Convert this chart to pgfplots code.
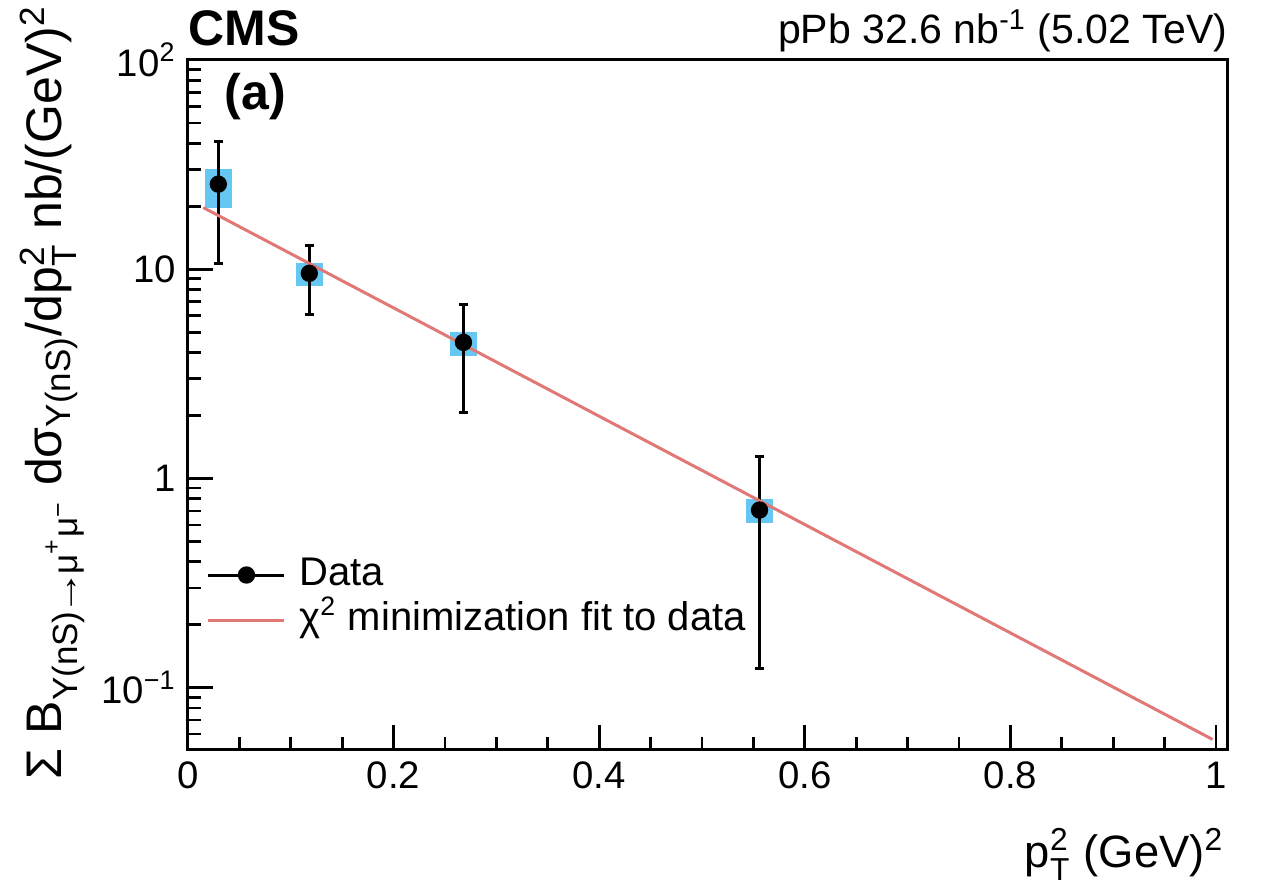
\documentclass[border=0pt]{standalone}
\usepackage{fontspec}
\setmainfont{Liberation Sans}
\usepackage{amsmath}
\usepackage{graphicx}
\usepackage{pgfplots}
\pgfplotsset{compat=1.18}
\usepackage{pgfplotstable}
\usetikzlibrary{calc}
\definecolor{boxblue}{RGB}{102,200,242}
\definecolor{fitred}{RGB}{224,120,118}

\pgfplotstableread{
x y ep em sp sm
0.0295 25.5 15.1 14.83 4.6 5.8
0.118 9.56 3.44 3.47 1.18 1.22
0.268 4.47 2.35 2.41 0.55 0.60
0.556 0.706 0.574 0.582 0.094 0.096
}\datatab

\pgfplotstableread{
x y
0.0149 19.7
0.9967 0.0566
}\fittab

\begin{document}
\begin{tikzpicture}
\begin{axis}[
  scale only axis, width=311.9pt, height=207pt,
  xmin=0, xmax=1.0114, ymode=log, ymin=0.0504, ymax=100,
  axis line style={line width=0.9pt},
  tick style={black, line width=0.8pt},
  tick align=inside, xtick pos=left, ytick pos=left,
  major tick length=7.5pt, minor tick length=3.8pt,
  xtick={0,0.2,0.4,0.6,0.8,1}, xticklabels={0,0.2,0.4,0.6,0.8,1},
  minor xtick={0.05,0.1,0.15,0.25,0.3,0.35,0.45,0.5,0.55,0.65,0.7,0.75,0.85,0.9,0.95},
  ytick={0.1,1,10,100},
  yticklabels={10\textsuperscript{−1},1,10,10\textsuperscript{2}},
  minor ytick={0.06,0.07,0.08,0.09,0.2,0.3,0.4,0.5,0.6,0.7,0.8,0.9,2,3,4,5,6,7,8,9,20,30,40,50,60,70,80,90},
  tick label style={font=\fontsize{11.5}{13}\selectfont},
  /pgf/number format/assume math mode=true,
  legend style={draw=none, fill=none, font=\fontsize{12}{14}\selectfont,
    at={(axis description cs:0.008,0.298)}, anchor=north west,
    cells={anchor=west}, row sep=-0.5pt, column sep=2.5pt,
    nodes={inner sep=1.5pt, text height=8.5pt, text depth=2.5pt}},
]
\addplot[boxblue, only marks, mark=none, forget plot,
  error bars/.cd, y dir=both, y explicit, error mark=none,
  error bar style={draw=boxblue, line width=8pt}]
  table[x=x, y=y, y error plus=sp, y error minus=sm] {\datatab};
\addplot[black, only marks, mark=*, mark size=2.4pt,
  legend image code/.code={
    \draw[black, line width=0.9pt] (0pt,0pt) -- (22.8pt,0pt);
    \fill[black] (11.4pt,0pt) circle (2.4pt);},
  error bars/.cd, y dir=both, y explicit,
  error bar style={black, line width=0.9pt},
  error mark options={black, line width=0.9pt, mark size=1.3pt, rotate=90}]
  table[x=x, y=y, y error plus=ep, y error minus=em] {\datatab};
\addlegendentry{Data}
\addplot[fitred, line width=0.9pt, mark=none,
  legend image code/.code={\draw[fitred, line width=0.9pt] (0pt,0pt) -- (22.8pt,0pt);}]
  table[x=x, y=y] {\fittab};
\addlegendentry{χ$^{\text{2}}$ minimization fit to data}
\end{axis}
\node[inner sep=0pt, anchor=base west, font=\bfseries\fontsize{15}{17}\selectfont] at ($(current axis.north west)+(0pt,4.2pt)$) {CMS};
\node[inner sep=0pt, anchor=base west, font=\bfseries\fontsize{15}{17}\selectfont] at ($(current axis.north west)+(10.8pt,-15pt)$) {(a)};
\node[inner sep=0pt, anchor=base east, font=\fontsize{12.3}{14}\selectfont] at ($(current axis.north east)+(0pt,4.8pt)$) {pPb 32.6 nb\textsuperscript{-1} (5.02 TeV)};
\node[inner sep=0pt, anchor=base east, font=\fontsize{13.6}{16}\selectfont] at ($(current axis.south east)+(-0.9pt,-35.4pt)$) {p$^{\text{2}}_{\text{T}}$ (GeV)$^{\text{2}}$};
\node[inner sep=0pt, rotate=90, anchor=base east, font=\fontsize{15}{17}\selectfont] at ($(current axis.north west)+(-37.8pt,16.5pt)$) {Σ B$_{\text{Υ(nS)\kern-0.12em\scalebox{1.3}[1]{→}\kern-0.12em μ}^{\text{+}}\text{μ}^{\text{−}}}$ dσ$_{\text{Υ(nS)}}$/dp$^{\text{2}}_{\text{T}}$ nb/(GeV)$^{\text{2}}$};
\pgfresetboundingbox
\path ($(current axis.south west)+(-56.4pt,-42pt)$) rectangle ($(current axis.north east)+(11.5pt,18pt)$);
\end{tikzpicture}
\end{document}
